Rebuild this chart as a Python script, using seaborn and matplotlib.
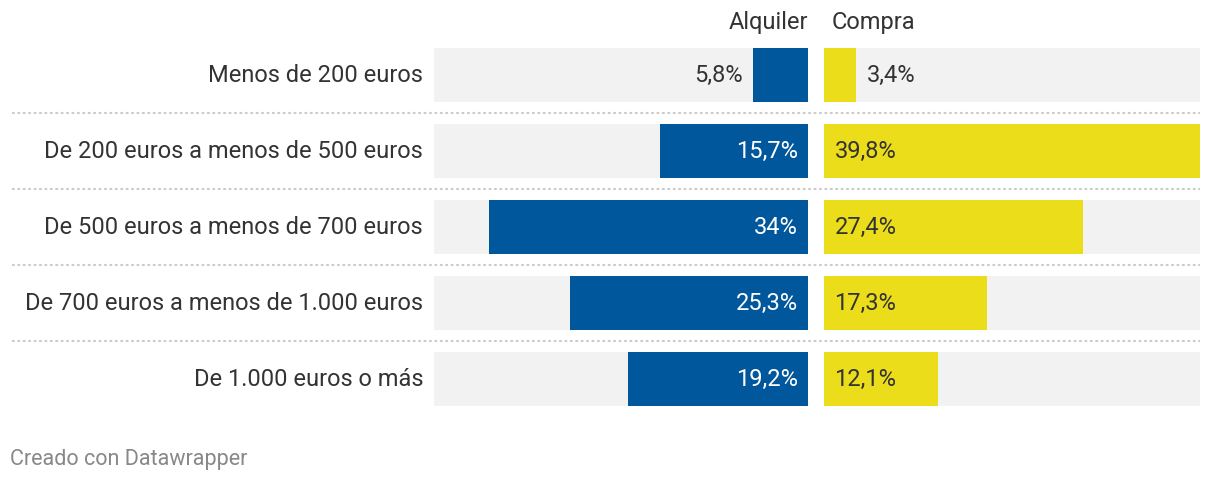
import matplotlib
matplotlib.use("Agg")
import matplotlib.pyplot as plt
import seaborn as sns
import pandas as pd
from matplotlib.lines import Line2D

CATEGORIES = [
    "Menos de 200 euros",
    "De 200 euros a menos de 500 euros",
    "De 500 euros a menos de 700 euros",
    "De 700 euros a menos de 1.000 euros",
    "De 1.000 euros o más",
]
ALQUILER = [5.8, 15.7, 34.0, 25.3, 19.2]
COMPRA = [3.4, 39.8, 27.4, 17.3, 12.1]
ALQUILER_LABELS = ["5,8%", "15,7%", "34%", "25,3%", "19,2%"]
COMPRA_LABELS = ["3,4%", "39,8%", "27,4%", "17,3%", "12,1%"]
SCALE_MAX = 39.8

BLUE = "#01579b"
YELLOW = "#ecdd1b"
GREY_BG = "#f2f2f2"
TEXT = "#333333"
FS = 17

sns.set_theme(style="white")
plt.rcParams["font.family"] = ["Roboto", "DejaVu Sans"]

W, H = 1220, 482
fig = plt.figure(figsize=(W / 100, H / 100), dpi=100)

# rows: 76 px apart, first bar centre at y=75 px from top
ax_bottom = (H - 417) / H
ax_height = 380 / H
ax_left = fig.add_axes([434 / W, ax_bottom, 374 / W, ax_height])
ax_right = fig.add_axes([824 / W, ax_bottom, 376 / W, ax_height])

df = pd.DataFrame({"cat": CATEGORIES, "alq": ALQUILER, "comp": COMPRA,
                   "full": [SCALE_MAX] * len(CATEGORIES)})

for ax, col, color in [(ax_left, "alq", BLUE), (ax_right, "comp", YELLOW)]:
    sns.barplot(data=df, y="cat", x="full", color=GREY_BG, width=0.71,
                saturation=1, ax=ax, order=CATEGORIES, linewidth=0)
    sns.barplot(data=df, y="cat", x=col, color=color, width=0.71,
                saturation=1, ax=ax, order=CATEGORIES, linewidth=0)
    ax.set_xlim(0, SCALE_MAX)
    ax.set_ylim(len(CATEGORIES) - 0.5, -0.5)
    ax.set_xlabel("")
    ax.set_ylabel("")
    ax.set_xticks([])
    ax.set_yticks([])
    for s in ax.spines.values():
        s.set_visible(False)
    ax.set_facecolor("none")

ax_left.invert_xaxis()

pad = 1.1
# value labels
for i, (v, lab) in enumerate(zip(ALQUILER, ALQUILER_LABELS)):
    if v > 8:
        ax_left.text(pad, i, lab, color="white", va="center", ha="right",
                     fontsize=FS)
    else:
        ax_left.text(v + pad, i, lab, color=TEXT, va="center", ha="right",
                     fontsize=FS)
for i, (v, lab) in enumerate(zip(COMPRA, COMPRA_LABELS)):
    x = pad if v > 8 else v + pad
    ax_right.text(x, i, lab, color=TEXT, va="center", ha="left", fontsize=FS)

# category labels
for i, cat in enumerate(CATEGORIES):
    y = 1 - (75 + 76 * i) / H
    fig.text(423 / W, y, cat, ha="right", va="center", color=TEXT, fontsize=FS)

# column headers
fig.text(808 / W, 1 - 23 / H, "Alquiler", ha="right", va="center", color=TEXT, fontsize=FS)
fig.text(832 / W, 1 - 23 / H, "Compra", ha="left", va="center", color=TEXT, fontsize=FS)

# dotted separators
for i in range(len(CATEGORIES) - 1):
    y = 1 - (113 + 76 * i) / H
    fig.add_artist(Line2D([12 / W, 1200 / W], [y, y], color="#cccccc",
                          linewidth=1.5, linestyle=(0, (1.3, 1.3))))

fig.text(10 / W, 1 - 459 / H, "Creado con Datawrapper", ha="left", va="center",
         color="#888888", fontsize=15.5)

fig.savefig("out.png", dpi=100, facecolor="white")
